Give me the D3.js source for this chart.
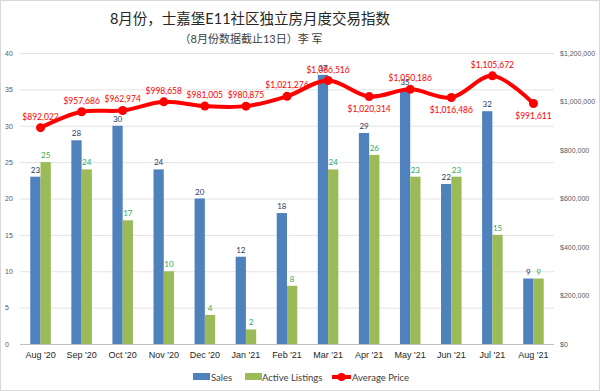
<!DOCTYPE html>
<html>
<head>
<meta charset="utf-8">
<script src="https://cdn.jsdelivr.net/npm/d3@7"></script>
<style>
  body { margin: 0; background: #fff; }
  svg { font-family: Lato, "Noto Sans CJK SC", sans-serif; }
</style>
</head>
<body>
<svg id="chart"></svg>
<script>
let months = ["Aug '20", "Sep '20", "Oct '20", "Nov '20", "Dec '20", "Jan '21", "Feb '21",
  "Mar '21", "Apr '21", "May '21", "Jun '21", "Jul '21", "Aug '21"];
let sales = [23, 28, 30, 24, 20, 12, 18, 37, 29, 35, 22, 32, 9];
let listings = [25, 24, 17, 10, 4, 2, 8, 24, 26, 23, 23, 15, 9];
let prices = [892022, 957686, 962974, 998658, 981005, 980875, 1021276,
  1086516, 1020314, 1050186, 1016486, 1105672, 991611];
// price labels placed under the point for these months
let labelBelow = ["Apr '21", "Jun '21", "Aug '21"];
let leftTicks = [0, 5, 10, 15, 20, 25, 30, 35, 40];
let rightTicks = [0, 200000, 400000, 600000, 800000, 1000000, 1200000];

let width = 600;
let height = 391;
let plotLeft = 20, plotRight = 554, plotTop = 53, plotBottom = 344;

let svg = d3.select("#chart").attr("width", width).attr("height", height);

svg.append("rect")
  .attr("x", 0.5).attr("y", 0.5)
  .attr("width", width - 1).attr("height", height - 1)
  .attr("fill", "#fff").attr("stroke", "#d9d9d9");

let xScale = d3.scaleBand().domain(months).range([plotLeft, plotRight]).paddingInner(0.5).paddingOuter(0.25);
let inner = d3.scaleBand().domain(["s", "l"]).range([0, xScale.bandwidth()]);
let yLeft = d3.scaleLinear().domain([0, 40]).range([plotBottom, plotTop]);
let yRight = d3.scaleLinear().domain([0, 1200000]).range([plotBottom, plotTop]);
let cx = (m) => xScale(m) + xScale.bandwidth() / 2;

// grid + left axis
let gridAxis = d3.axisLeft(yLeft).tickValues(leftTicks).tickSize(-(plotRight - plotLeft)).tickPadding(8);
let gl = svg.append("g").attr("transform", "translate(" + plotLeft + ",0)").call(gridAxis);
gl.select(".domain").remove();
gl.selectAll(".tick line").attr("stroke", (d) => d === 0 ? "#bfbfbf" : "#e3e3e3");
gl.selectAll(".tick text")
  .attr("x", -15).attr("text-anchor", "start")
  .attr("fill", "#595959").style("font-size", "7px");

// right axis
let ar = svg.append("g").attr("transform", "translate(" + plotRight + ",0)")
  .call(d3.axisRight(yRight).tickValues(rightTicks).tickSize(0).tickPadding(6)
    .tickFormat((d) => "$" + d3.format(",")(d)));
ar.select(".domain").remove();
ar.selectAll(".tick text").attr("fill", "#595959").style("font-size", "7px");

// x axis
let ax = svg.append("g").attr("transform", "translate(0," + plotBottom + ")")
  .call(d3.axisBottom(xScale).tickSize(0).tickPadding(8));
ax.select(".domain").remove();
ax.selectAll(".tick text").attr("fill", "#262626").style("font-size", "9px");

// bars
svg.selectAll(".sales").data(months).enter().append("rect")
  .attr("x", (m) => xScale(m) + inner("s"))
  .attr("y", (m, i) => yLeft(sales[i]))
  .attr("width", inner.bandwidth())
  .attr("height", (m, i) => plotBottom - yLeft(sales[i]))
  .attr("fill", "#4f81bd");
svg.selectAll(".listings").data(months).enter().append("rect")
  .attr("x", (m) => xScale(m) + inner("l"))
  .attr("y", (m, i) => yLeft(listings[i]))
  .attr("width", inner.bandwidth())
  .attr("height", (m, i) => plotBottom - yLeft(listings[i]))
  .attr("fill", "#9bbb59");

// bar labels
svg.selectAll(".slab").data(months).enter().append("text")
  .attr("x", (m) => xScale(m) + inner("s") + inner.bandwidth() / 2)
  .attr("y", (m, i) => yLeft(sales[i]) - 4)
  .attr("text-anchor", "middle")
  .attr("fill", "#1f3864").style("font-size", "8px")
  .text((m, i) => sales[i]);
svg.selectAll(".llab").data(months).enter().append("text")
  .attr("x", (m) => xScale(m) + inner("l") + inner.bandwidth() / 2)
  .attr("y", (m, i) => yLeft(listings[i]) - 4)
  .attr("text-anchor", "middle")
  .attr("fill", "#2eaa5a").style("font-size", "8px")
  .text((m, i) => listings[i]);

// price line
let line = d3.line()
  .x((m) => cx(m))
  .y((m, i) => yRight(prices[i]))
  .curve(d3.curveCatmullRom.alpha(0.5));
svg.append("path").datum(months)
  .attr("d", line)
  .attr("fill", "none").attr("stroke", "#ff0000").attr("stroke-width", 4)
  .attr("stroke-linejoin", "round");
svg.selectAll(".pt").data(months).enter().append("circle")
  .attr("cx", (m) => cx(m))
  .attr("cy", (m, i) => yRight(prices[i]))
  .attr("r", 4.5).attr("fill", "#ff0000");
svg.selectAll(".plab").data(months).enter().append("text")
  .attr("x", (m) => cx(m))
  .attr("y", (m, i) => yRight(prices[i]) + (labelBelow.includes(m) ? 15 : -8))
  .attr("text-anchor", "middle")
  .attr("fill", "#ff0000").style("font-size", "8.5px")
  .text((m, i) => "$" + d3.format(",")(prices[i]));

// titles
svg.append("text").attr("x", 250).attr("y", 24).attr("text-anchor", "middle")
  .attr("fill", "#262626").style("font-size", "14.5px")
  .text("8月份，士嘉堡E11社区独立房月度交易指数");
svg.append("text").attr("x", 251).attr("y", 43).attr("text-anchor", "middle")
  .attr("fill", "#404040").style("font-size", "11px")
  .text("（8月份数据截止13日）李 军");

// legend
let legend = svg.append("g").attr("transform", "translate(0,377)");
legend.append("rect").attr("x", 193).attr("y", -4).attr("width", 17).attr("height", 7).attr("fill", "#4f81bd");
legend.append("text").attr("x", 211).attr("y", 3.5).attr("fill", "#404040").style("font-size", "9.5px").text("Sales");
legend.append("rect").attr("x", 245).attr("y", -4).attr("width", 17).attr("height", 7).attr("fill", "#9bbb59");
legend.append("text").attr("x", 262).attr("y", 3.5).attr("fill", "#404040").style("font-size", "9.5px").text("Active Listings");
legend.append("line").attr("x1", 332).attr("x2", 351).attr("y1", 0).attr("y2", 0)
  .attr("stroke", "#ff0000").attr("stroke-width", 4);
legend.append("circle").attr("cx", 341.5).attr("cy", 0).attr("r", 4).attr("fill", "#ff0000");
legend.append("text").attr("x", 352).attr("y", 3.5).attr("fill", "#404040").style("font-size", "9.5px").text("Average Price");
</script>
</body>
</html>
